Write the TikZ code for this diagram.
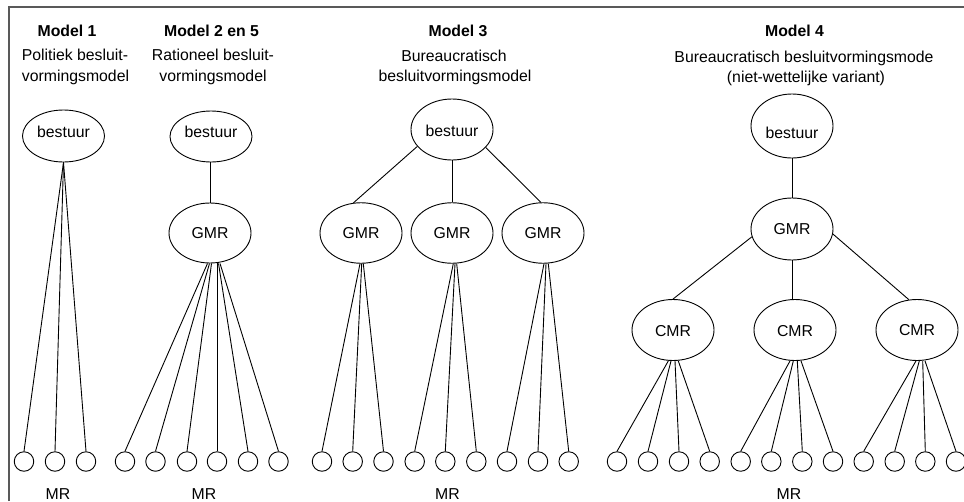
\documentclass[tikz,border=0pt]{standalone}
\usepackage{fontspec}
\setmainfont{Liberation Sans}
\usetikzlibrary{shapes.geometric}
% text inside an oval, moved up or down without changing the box size
\newcommand\lifted[2]{\raisebox{#1}[11.5pt][0pt]{#2}}

\begin{document}
\begin{tikzpicture}[x=1pt,y=-1pt,
  every node/.style={font=\fontsize{15.8}{18}\selectfont, inner sep=0pt},
  oval/.style={draw, ellipse, line width=0.9pt, minimum width=82pt, minimum height=#1},
  oval/.default=61pt,
  leaf/.style={draw, circle, line width=0.9pt, minimum size=19.5pt},
  heading/.style={anchor=base, font=\fontsize{15.8}{18}\selectfont\bfseries},
  caption/.style={anchor=base},
  link/.style={line width=0.9pt},
  frame/.style={draw=black!65, line width=1.3pt}]

\useasboundingbox (0,0) rectangle (964,501);

% outer frame (top and left edges)
\draw[frame] (9,501) -- (9,7) -- (964,7);

% headings
\node[heading] (t1)  at (67,36)     {Model 1};
\node[caption] (t1a) at (75,60.7)   {Politiek besluit-};
\node[caption] (t1b) at (75.5,81.7) {vormingsmodel};
\node[heading] (t2)  at (211.5,36)  {Model 2 en 5};
\node[caption] (t2a) at (213,60.7)  {Rationeel besluit-};
\node[caption] (t2b) at (213,81.7)  {vormingsmodel};
\node[heading] (t3)  at (458,36.5)  {Model 3};
\node[caption] (t3a) at (454,61.5)  {Bureaucratisch};
\node[caption] (t3b) at (455,81.7)  {besluitvormingsmodel};
\node[heading] (t4)  at (794.5,36.5){Model 4};
\node[caption] (t4a) at (804,62.5)  {Bureaucratisch besluitvormingsmode};
\node[caption] (t4b) at (806,82.5)  {(niet-wettelijke variant)};

% ovals
\node[oval=52pt] (top1) at (63.5,136)  {\lifted{4.5pt}{bestuur}};
\node[oval=51pt] (top2) at (211,136.5) {\lifted{5pt}{bestuur}};
\node[oval=60pt] (gmr2) at (210,233)   {\lifted{0pt}{GMR}};

\node[oval=61pt] (top3)  at (452,129.5) {\lifted{-1.5pt}{bestuur}};
\node[oval=60.5pt] (gmr3a) at (361,233) {\lifted{0pt}{GMR}};
\node[oval=60.5pt] (gmr3b) at (452,233) {\lifted{0pt}{GMR}};
\node[oval=60.5pt] (gmr3c) at (543,233) {\lifted{0pt}{GMR}};

\node[oval=64pt] (top4) at (792,126) {\lifted{-7pt}{bestuur}};
\node[oval=62pt] (gmr4) at (792,229) {\lifted{0pt}{GMR}};
\node[oval=61pt] (cmr1) at (673,330) {\lifted{-1pt}{CMR}};
\node[oval=61pt] (cmr2) at (795,330) {\lifted{-1pt}{CMR}};
\node[oval=61pt] (cmr3) at (917,330) {\lifted{0.5pt}{CMR}};

% leaves
\foreach \x [count=\i] in {24,55,86}
  \node[leaf] (ma\i) at (\x,461.5) {};
\foreach \x [count=\i] in {125,155.5,187,217,248,278.5}
  \node[leaf] (mb\i) at (\x,461.5) {};
\foreach \x [count=\i] in {322,352.7,383.5,414.7,445.3,476.3,507,538,568.7}
  \node[leaf] (mc\i) at (\x,461.5) {};
\foreach \x [count=\i] in {617,648,679,709.7,740.7,771.3,802.3,833,863.7,894.7,925.3,956}
  \node[leaf] (md\i) at (\x,461.5) {};

% MR labels
\node[caption] (mr1) at (58,499)  {MR};
\node[caption] (mr2) at (204,499) {MR};
\node[caption] (mr3) at (447.5,499) {MR};
\node[caption] (mr4) at (789,499) {MR};

% model 1
\foreach \i in {1,2,3}
  \draw[link] (top1.south) -- (ma\i.north);

% model 2 en 5
\draw[link] (gmr2.north |- top2.south) -- (gmr2.north);
\foreach \i/\dx in {1/-2.5,2/-0.5,3/1.5,4/7,5/8.5,6/10}
  \draw[link] ([xshift=\dx pt]gmr2.south) -- (mb\i.north);

% model 3
\draw[link] (top3.206) -- (gmr3a.104);
\draw[link] (top3.south) -- (gmr3b.north);
\draw[link] (top3.332) -- (gmr3c.94);
\foreach \i/\dx in {1/-1,2/0.7,3/2.3}
  \draw[link] ([xshift=\dx pt]gmr3a.south) -- (mc\i.north);
\foreach \i/\dx in {4/1.3,5/3,6/4.7}
  \draw[link] ([xshift=\dx pt]gmr3b.south) -- (mc\i.north);
\foreach \i/\dx in {7/1,8/3,9/5.3}
  \draw[link] ([xshift=\dx pt]gmr3c.south) -- (mc\i.north);

% model 4
\draw[link] (top4.south) -- (gmr4.north);
\draw[link] (gmr4.191) -- (cmr1.north);
\draw[link] (gmr4.south) -- (gmr4.south |- cmr2.north);
\draw[link] (gmr4.-7) -- (cmr3.105);
\foreach \i/\dx in {1/-4.7,2/-2,3/2,4/5.3}
  \draw[link] ([xshift=\dx pt]cmr1.south) -- (md\i.north);
\foreach \i/\dx in {5/-5,6/-1.7,7/2.3,8/6}
  \draw[link] ([xshift=\dx pt]cmr2.south) -- (md\i.north);
\foreach \i/\dx in {9/-1,10/2.3,11/5.7,12/8}
  \draw[link] ([xshift=\dx pt]cmr3.south) -- (md\i.north);

\end{tikzpicture}
\end{document}
